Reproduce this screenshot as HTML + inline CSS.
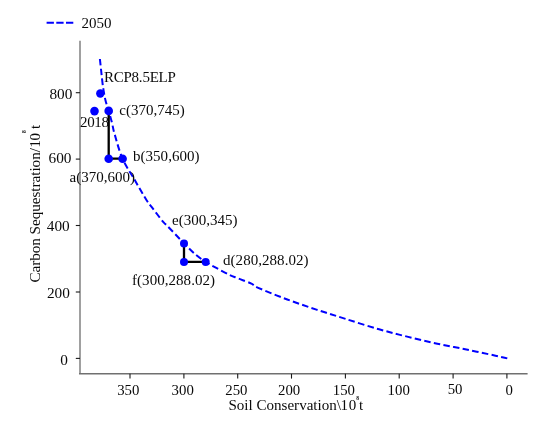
<!DOCTYPE html>
<html>
<head>
<meta charset="utf-8">
<title>Chart</title>
<style>
html,body{margin:0;padding:0;background:#fff;}
body{width:550px;height:427px;overflow:hidden;}
svg{display:block;filter:blur(0.35px);}
text{font-family:"Liberation Serif","Times New Roman",serif;fill:#0a0a0a;}
</style>
</head>
<body>
<svg width="550" height="427" viewBox="0 0 550 427">
<rect width="550" height="427" fill="#fff"/>
<!-- legend -->
<line x1="46.6" y1="22.8" x2="73.4" y2="22.8" stroke="#0000ff" stroke-width="2" stroke-dasharray="7.3 2.4"/>
<text x="81.6" y="28" font-size="15">2050</text>
<!-- axes -->
<g stroke="#808080" stroke-width="1.5" fill="none">
<line x1="80.0" y1="40.7" x2="80.0" y2="374"/>
</g>
<g stroke="#707070" stroke-width="1.4" fill="none">
<line x1="79" y1="373.8" x2="527.6" y2="373.8"/>
</g>
<g stroke="#1a1a1a" stroke-width="1.1">
<line x1="75.8" y1="92.7" x2="80.0" y2="92.7"/>
<line x1="75.8" y1="159.1" x2="80.0" y2="159.1"/>
<line x1="75.8" y1="225.5" x2="80.0" y2="225.5"/>
<line x1="75.8" y1="292.0" x2="80.0" y2="292.0"/>
<line x1="75.8" y1="358.4" x2="80.0" y2="358.4"/>
<line x1="130.0" y1="373.8" x2="130.0" y2="378.6"/>
<line x1="183.9" y1="373.8" x2="183.9" y2="378.6"/>
<line x1="237.7" y1="373.8" x2="237.7" y2="378.6"/>
<line x1="291.5" y1="373.8" x2="291.5" y2="378.6"/>
<line x1="345.4" y1="373.8" x2="345.4" y2="378.6"/>
<line x1="399.2" y1="373.8" x2="399.2" y2="378.6"/>
<line x1="453.1" y1="373.8" x2="453.1" y2="378.6"/>
<line x1="506.9" y1="373.8" x2="506.9" y2="378.6"/>
</g>
<g font-size="15.3" text-anchor="end">
<text x="72.4" y="99.2">800</text>
<text x="71.5" y="163.3">600</text>
<text x="69.7" y="231.4">400</text>
<text x="69.9" y="298.4">200</text>
<text x="68.0" y="364.8">0</text>
</g>
<g font-size="14.8" text-anchor="middle">
<text x="128.3" y="394.7">350</text>
<text x="182.7" y="394.7">300</text>
<text x="236.4" y="394.7">250</text>
<text x="289.1" y="394.7">200</text>
<text x="343.9" y="394.7">150</text>
<text x="398.7" y="394.7">100</text>
<text x="455.1" y="393.6">50</text>
<text x="509.1" y="394.7">0</text>
</g>
<!-- axis titles -->
<text y="410" font-size="15"><tspan x="228.4" textLength="112.6" lengthAdjust="spacingAndGlyphs">Soil Conservation\</tspan><tspan x="340.6" textLength="15.7" lengthAdjust="spacing">10</tspan><tspan x="356.3" y="400.4" font-size="5.5" font-weight="bold">8</tspan><tspan x="359" y="410">t</tspan></text>
<g transform="translate(39.8,282.6) rotate(-90)">
<text y="0" font-size="15"><tspan x="0" textLength="134.5" lengthAdjust="spacingAndGlyphs">Carbon Sequestration/</tspan><tspan x="135" textLength="14.5" lengthAdjust="spacing">10</tspan><tspan x="149.6" y="-13.5" font-size="5.5" font-weight="bold">8</tspan><tspan x="153.6" y="0">t</tspan></text>
</g>
<!-- curve -->
<path d="M99.9 59.0 C100.1 61.2 100.8 67.2 101.3 72.0 C101.8 76.8 102.4 82.8 103.1 87.5 C103.8 92.2 104.5 96.1 105.4 100.0 C106.3 103.9 107.6 107.1 108.7 110.9 M507.3 358.4 C505.3 357.9 502.3 357.2 495.5 355.7 C488.7 354.2 476.1 351.5 466.4 349.5 C456.7 347.5 447.0 345.8 437.3 343.7 C427.6 341.6 417.9 339.3 408.2 336.9 C398.5 334.5 389.6 332.3 379.1 329.3 C368.7 326.3 355.9 322.2 345.5 318.9 C335.1 315.6 326.1 312.8 316.4 309.6 C306.7 306.4 297.0 303.1 287.3 299.5 C277.6 295.9 264.2 290.4 258.2 287.8 C252.2 285.2 254.7 285.2 251.4 283.6 C248.1 282.1 242.1 280.0 238.4 278.5 C234.7 277.0 232.7 276.4 229.1 274.7 C225.5 273.0 220.7 270.3 216.8 268.2 C213.0 266.1 209.4 264.3 206.0 262.1 C202.6 259.9 199.9 258.1 196.2 255.0 C192.5 251.9 188.8 248.2 184.0 243.3 C179.2 238.5 170.7 229.4 167.3 225.9 C163.9 222.4 166.0 225.3 163.4 222.2 C160.8 219.1 154.6 210.8 151.8 207.2 C149.0 203.5 149.5 204.9 146.6 200.3 C143.7 195.7 138.5 186.6 134.5 179.6 C130.5 172.6 125.8 166.2 122.5 158.6 C119.2 151.0 116.3 139.9 114.6 134.0 C112.8 128.1 113.0 126.8 112.0 122.9 C111.0 119.1 109.8 114.7 108.7 110.9" fill="none" stroke="#0000ff" stroke-width="2" stroke-dasharray="6.5 3.3"/>
<!-- segments -->
<g stroke="#000" stroke-width="2.3" fill="none">
<path d="M108.7 110.9 V158.7 H122.6"/>
<path d="M184 243.4 V261.9 H205.7"/>
</g>
<!-- points -->
<g fill="#0000ff">
<circle cx="100.3" cy="93.5" r="4.2"/>
<circle cx="94.5" cy="111.1" r="4.3"/>
<circle cx="108.7" cy="110.9" r="4.3"/>
<circle cx="108.7" cy="158.7" r="4.3"/>
<circle cx="122.6" cy="158.7" r="4.3"/>
<circle cx="184" cy="243.4" r="4"/>
<circle cx="184" cy="261.9" r="4"/>
<circle cx="205.7" cy="261.9" r="4"/>
</g>
<!-- labels -->
<g font-size="15" lengthAdjust="spacingAndGlyphs">
<text x="103.9" y="82.3" textLength="72">RCP8.5ELP</text>
<text x="80" y="127.3" textLength="29">2018</text>
<text x="119.2" y="115" textLength="65.5">c(370,745)</text>
<text x="133" y="160.9" textLength="66.5">b(350,600)</text>
<text x="69.6" y="182.2" textLength="65.5">a(370,600)</text>
<text x="172" y="225" textLength="65.5">e(300,345)</text>
<text x="223" y="264.5" textLength="85.5">d(280,288.02)</text>
<text x="132" y="284.9" textLength="83">f(300,288.02)</text>
</g>
</svg>
</body>
</html>
